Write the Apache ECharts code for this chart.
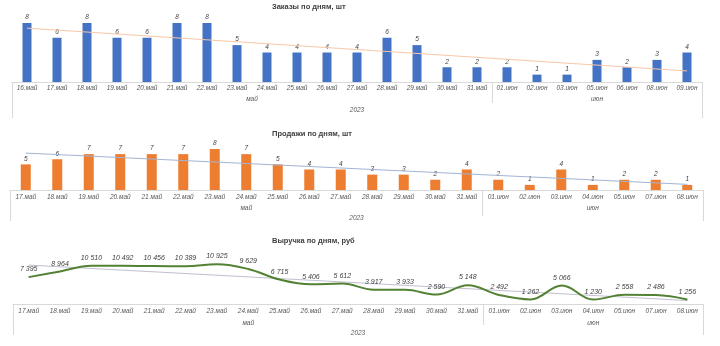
<!DOCTYPE html>
<html><head><meta charset="utf-8">
<script src="https://cdn.jsdelivr.net/npm/echarts@6/dist/echarts.min.js"></script>
<style>html,body{margin:0;padding:0;background:#fff}#c{width:720px;height:346px}</style>
</head><body><div id="c"></div>
<script>
// ---- data ----
const ordersCats = ['16.май','17.май','18.май','19.май','20.май','21.май','22.май','23.май','24.май','25.май','26.май','27.май','28.май','29.май','30.май','31.май','01.июн','02.июн','03.июн','05.июн','06.июн','08.июн','09.июн'];
const ordersVals = [8,6,8,6,6,8,8,5,4,4,4,4,6,5,2,2,2,1,1,3,2,3,4];
const ordersTrend = [7.3, 1.5]; // trend line endpoints

const salesCats = ['17.май','18.май','19.май','20.май','21.май','22.май','23.май','24.май','25.май','26.май','27.май','28.май','29.май','30.май','31.май','01.июн','02.июн','03.июн','04.июн','05.июн','07.июн','08.июн'];
const salesVals = [5,6,7,7,7,7,8,7,5,4,4,3,3,2,4,2,1,4,1,2,2,1];
const salesTrend = [7.2, 1.1];

const revenueCats = salesCats;
const revenueVals = [7395,8964,10510,10492,10456,10389,10925,9629,6715,5406,5612,3917,3933,2590,5148,2492,1262,5066,1230,2558,2486,1256];
const revenueTrend = [10700, 950];

const yearLabel = '2023';
const titles = ['Заказы по дням, шт','Продажи по дням, шт','Выручка по дням, руб'];

// ---- helpers ----
const FONT = 'Liberation Sans, Arial, sans-serif';
const GREY = '#595959';
const LINE = '#d9d9d9';
function fmt(v){return String(v).replace(/\B(?=(\d{3})+(?!\d))/g,' ');}
function trendData(n, ends){const a=new Array(n).fill(null);a[0]=ends[0];a[n-1]=ends[1];return a;}
function groups(cats){
  const g=[];cats.forEach((c,i)=>{const m=c.split('.')[1];if(!g.length||g[g.length-1].m!==m)g.push({m:m,a:i,b:i});else g[g.length-1].b=i;});return g;
}
function axesFor(gi, cats, m1, m2, m3, sepLen, edgeLen){
  const n=cats.length, g=groups(cats);
  const half2=new Array(2*n+1).fill(''); const seps=new Set();
  g.forEach((x,k)=>{half2[x.a+x.b+1]=x.m; if(k>0) seps.add(2*x.a);});
  const half3=new Array(2*n+1).fill(''); half3[n]=yearLabel;
  const lab={fontFamily:FONT,fontSize:6.5,fontStyle:'italic',color:GREY};
  return [
    {type:'category',gridIndex:gi,data:cats,position:'bottom',
      axisLine:{show:true,lineStyle:{color:LINE,width:1}},axisTick:{show:false},
      axisLabel:Object.assign({interval:0,margin:m1},lab)},
    {type:'category',gridIndex:gi,data:half2,boundaryGap:false,position:'bottom',
      axisLine:{show:false},
      axisTick:{show:true,length:sepLen,interval:(i)=>seps.has(i),lineStyle:{color:LINE,width:1}},
      axisLabel:Object.assign({interval:0,margin:m2},lab)},
    {type:'category',gridIndex:gi,data:half3,boundaryGap:false,position:'bottom',
      axisLine:{show:false},
      axisTick:{show:true,length:edgeLen,interval:(i)=>i===0||i===2*n,lineStyle:{color:LINE,width:1}},
      axisLabel:Object.assign({interval:0,margin:m3},lab)}
  ];
}
const titleStyle={fontFamily:FONT,fontSize:7.5,fontWeight:'bold',color:'#404040'};
const barLabel={show:true,position:'top',distance:2,fontFamily:FONT,fontSize:6.5,fontStyle:'italic',color:'#404040'};

const xAxis=[].concat(
  axesFor(0, ordersCats, 3, 14, 25, 21, 36),
  axesFor(1, salesCats, 3.5, 14.5, 24.5, 26, 31),
  axesFor(2, revenueCats, 4, 16, 26, 21, 31)
);

const option={
  animation:false,
  backgroundColor:'#ffffff',
  title:[
    {text:titles[0],left:272,top:3,padding:0,textStyle:titleStyle},
    {text:titles[1],left:272,top:130,padding:0,textStyle:titleStyle},
    {text:titles[2],left:272,top:237,padding:0,textStyle:titleStyle}
  ],
  grid:[
    {left:12,right:18,top:23,height:59},
    {left:10,right:17,top:149,height:41},
    {left:13,right:17,top:264,height:40}
  ],
  xAxis:xAxis,
  yAxis:[
    {type:'value',gridIndex:0,min:0,max:8,show:false},
    {type:'value',gridIndex:1,min:0,max:8,show:false},
    {type:'value',gridIndex:2,min:0,max:11000,show:false}
  ],
  series:[
    {type:'bar',xAxisIndex:0,yAxisIndex:0,data:ordersVals,barWidth:9,itemStyle:{color:'#4472c4'},label:barLabel},
    {type:'line',xAxisIndex:0,yAxisIndex:0,data:trendData(ordersVals.length,ordersTrend),connectNulls:true,symbol:'none',lineStyle:{color:'#f8c8a8',width:1},z:3,silent:true},
    {type:'bar',xAxisIndex:3,yAxisIndex:1,data:salesVals,barWidth:10,itemStyle:{color:'#ed7d31'},label:barLabel},
    {type:'line',xAxisIndex:3,yAxisIndex:1,data:trendData(salesVals.length,salesTrend),connectNulls:true,symbol:'none',lineStyle:{color:'#a3b4d4',width:1},z:3,silent:true},
    {type:'line',xAxisIndex:6,yAxisIndex:2,data:trendData(revenueVals.length,revenueTrend),connectNulls:true,symbol:'none',lineStyle:{color:'#c0c0d0',width:1},z:1,silent:true},
    {type:'line',xAxisIndex:6,yAxisIndex:2,data:revenueVals,smooth:0.4,symbol:'circle',symbolSize:0.5,showSymbol:true,showAllSymbol:true,itemStyle:{color:'#548235'},lineStyle:{color:'#548235',width:2},
      label:{show:true,position:'top',distance:4,fontFamily:FONT,fontSize:7,fontStyle:'italic',color:'#404040',formatter:(p)=>fmt(p.value)},z:2}
  ]
};
const chart=echarts.init(document.getElementById('c'),null,{renderer:'canvas'});
chart.setOption(option);
</script></body></html>
